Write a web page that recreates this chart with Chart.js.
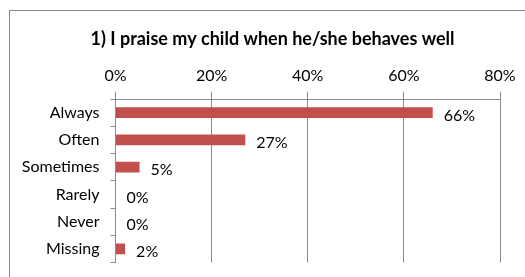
<!DOCTYPE html>
<html>
<head>
<meta charset="utf-8">
<script src="https://cdn.jsdelivr.net/npm/chart.js@4.4.1/dist/chart.umd.min.js"></script>
<style>
  html, body { margin: 0; padding: 0; background: #fff; }
  canvas { display: block; }
</style>
</head>
<body>
<canvas id="chart" width="525" height="277"></canvas>
<script>
const categories = ['Always', 'Often', 'Sometimes', 'Rarely', 'Never', 'Missing'];
const shares = [0.66, 0.27, 0.05, 0, 0, 0.02];
const tickValues = [0, 0.2, 0.4, 0.6, 0.8];
const titleText = '1) I praise my child when he/she behaves well';

const fontFamily = 'Lato, "Open Sans", sans-serif';
const axisGray = '#8c8c8c';

// frame + title, drawn by hand so the title sits centred on the whole frame
const framePlugin = {
    id: 'frame',
    beforeDraw(chart) {
        const c = chart.ctx;
        c.save();
        c.fillStyle = '#fff';
        c.fillRect(0, 0, chart.width, chart.height);
        c.strokeStyle = '#8a8a8a';
        c.lineWidth = 1;
        c.strokeRect(9.5, 10.5, chart.width, chart.height);
        c.fillStyle = '#000';
        c.font = 'bold 18px ' + fontFamily;
        c.textAlign = 'center';
        c.textBaseline = 'middle';
        c.fillText(titleText, 272.5, 39);
        c.restore();
    }
};

// percentage labels at the end of each bar
const valueLabels = {
    id: 'valueLabels',
    afterDatasetsDraw(chart) {
        const c = chart.ctx;
        const meta = chart.getDatasetMeta(0);
        c.save();
        c.font = '16px ' + fontFamily;
        c.fillStyle = '#000';
        c.textAlign = 'left';
        c.textBaseline = 'middle';
        meta.data.forEach((bar, i) => {
            c.fillText(Math.round(shares[i] * 100) + '%', bar.x + 11, bar.y + 3);
        });
        c.restore();
    }
};

new Chart(document.getElementById('chart'), {
    type: 'bar',
    data: {
        labels: categories,
        datasets: [{
            data: shares,
            backgroundColor: '#C0504D',
            borderWidth: 0,
            categoryPercentage: 1,
            barPercentage: 0.4
        }]
    },
    options: {
        indexAxis: 'y',
        responsive: false,
        animation: false,
        layout: { padding: { top: 66, right: 25, bottom: 14.5, left: 0 } },
        plugins: {
            legend: { display: false },
            tooltip: { enabled: false },
            title: { display: false }
        },
        scales: {
            x: {
                position: 'top',
                min: 0,
                max: 0.8,
                afterBuildTicks(scale) {
                    scale.ticks = tickValues.map(v => ({ value: v }));
                },
                afterFit(scale) {
                    scale.height = 33;
                    scale.paddingLeft = 0;
                    scale.paddingRight = 0;
                },
                ticks: {
                    color: '#000',
                    font: { family: fontFamily, size: 16 },
                    padding: 7,
                    callback: v => Math.round(v * 100) + '%'
                },
                grid: { color: axisGray, tickLength: 7, lineWidth: 1 },
                border: { color: axisGray }
            },
            y: {
                afterFit(scale) {
                    scale.width = 115.5;
                    scale.paddingTop = 0;
                    scale.paddingBottom = 0;
                },
                ticks: {
                    color: '#000',
                    font: { family: fontFamily, size: 16 },
                    padding: 11
                },
                grid: {
                    offset: true,
                    drawOnChartArea: false,
                    color: axisGray,
                    tickLength: 5
                },
                border: { color: axisGray }
            }
        }
    },
    plugins: [framePlugin, valueLabels]
});
</script>
</body>
</html>
